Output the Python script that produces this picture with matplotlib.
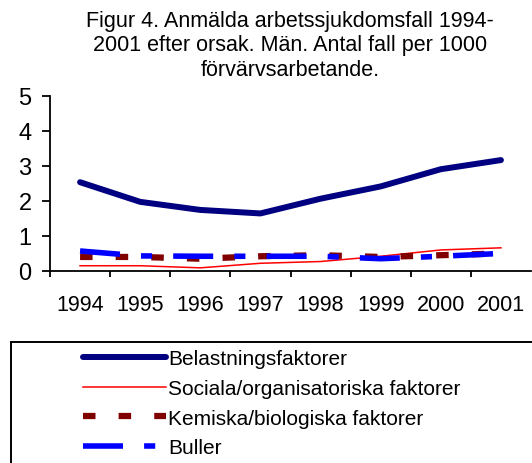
import matplotlib.pyplot as plt
from matplotlib.patches import Rectangle

plt.rcParams['font.family'] = ['Liberation Sans', 'DejaVu Sans']

years = ['1994', '1995', '1996', '1997', '1998', '1999', '2000', '2001']
belastning = [2.53, 1.97, 1.74, 1.64, 2.06, 2.41, 2.90, 3.16]
sociala = [0.15, 0.15, 0.09, 0.22, 0.27, 0.42, 0.60, 0.66]
kemiska = [0.40, 0.40, 0.35, 0.42, 0.45, 0.40, 0.45, 0.50]
buller = [0.57, 0.43, 0.42, 0.42, 0.42, 0.35, 0.42, 0.50]

labels = ['Belastningsfaktorer', 'Sociala/organisatoriska faktorer',
          'Kemiska/biologiska faktorer', 'Buller']

W, H = 532, 464
fig = plt.figure(figsize=(W / 100, H / 100), dpi=100)
ax = fig.add_axes([50 / W, 192 / H, 481 / W, 175.5 / H])

x = range(len(years))
l1, = ax.plot(x, belastning, color='#000080', lw=4.3, solid_capstyle='round')
l2, = ax.plot(x, sociala, color='#ff0000', lw=1.1)
l3, = ax.plot(x, kemiska, color='#800000', lw=4.5, linestyle=(0, (2.0, 3.7)))
l4, = ax.plot(x, buller, color='#0000ff', lw=4.0, linestyle=(0, (7.2, 3.8, 2.0, 3.8)))

ax.set_xlim(-0.5, 7.5)
ax.set_ylim(0, 5)
ax.set_yticks([0, 1, 2, 3, 4, 5])
ax.set_xticks([i - 0.5 for i in range(8)])
ax.set_xticklabels([])
ax.set_xticks(list(x), minor=True)
ax.set_xticklabels(years, minor=True)
ax.tick_params(axis='x', which='minor', length=0, pad=16.5, labelsize=15.5)
ax.tick_params(axis='x', which='major', length=4, width=1.3, direction='out')
ax.tick_params(axis='y', length=5.8, width=1.3, labelsize=17, pad=7.5)
for s in ['top', 'right']:
    ax.spines[s].set_visible(False)
for s in ['left', 'bottom']:
    ax.spines[s].set_linewidth(1.3)

fig.text(290 / W, 1 - 46 / H,
         'Figur 4. Anmälda arbetssjukdomsfall 1994-\n2001 efter orsak. Män. Antal fall per 1000\nförvärvsarbetande.',
         ha='center', va='center', fontsize=15.5, linespacing=1.24)

# legend box runs past the right and bottom edges, as in the reference
fig.patches.append(Rectangle((11 / W, -10 / H), 540 / W, (H - 343 + 10) / H,
                             transform=fig.transFigure, facecolor='white',
                             edgecolor='black', lw=1.4, zorder=0))
leg = fig.legend([l1, l2, l3, l4], labels, loc='upper left',
                 bbox_to_anchor=(83 / W, 1 - 350 / H), frameon=False,
                 fontsize=15, handlelength=4.0, handletextpad=0.1,
                 borderpad=0, borderaxespad=0, labelspacing=0.52)

fig.savefig('out.png', dpi=100)
